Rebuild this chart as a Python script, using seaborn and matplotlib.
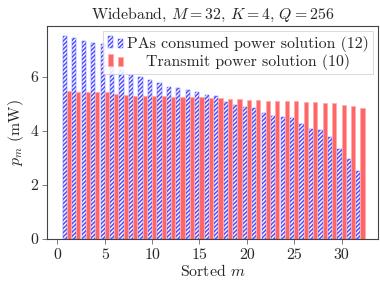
import pandas as pd
import seaborn as sns
import matplotlib.pyplot as plt
from matplotlib.patches import Rectangle
from matplotlib.legend_handler import HandlerBase

# data
m_idx = list(range(1, 33))
pa_power = [7.52, 7.44, 7.33, 7.26, 7.22, 6.45, 6.27, 6.07, 5.99, 5.89, 5.79, 5.64,
            5.61, 5.51, 5.43, 5.33, 5.30, 5.09, 4.96, 4.88, 4.84, 4.65, 4.56, 4.51,
            4.47, 4.26, 4.07, 4.04, 3.79, 3.33, 2.95, 2.53]
tx_power = [5.47, 5.46, 5.46, 5.46, 5.46, 5.37, 5.33, 5.31, 5.31, 5.30, 5.28, 5.27,
            5.27, 5.25, 5.25, 5.22, 5.21, 5.19, 5.18, 5.15, 5.15, 5.12, 5.12, 5.12,
            5.10, 5.06, 5.06, 5.04, 5.02, 4.96, 4.93, 4.84]
series_names = ["PAs consumed power solution (12)", "Transmit power solution (10)"]
x_ticks = [0, 5, 10, 15, 20, 25, 30]
y_ticks = [0, 2, 4, 6]

FS = 11.4


class TwoBarHandler(HandlerBase):
    # pgfplots-style ybar legend image: two small bars
    def create_artists(self, legend, orig, xdescent, ydescent, width, height,
                       fontsize, trans):
        bw = width * 0.32
        r1 = Rectangle((-xdescent, -ydescent), bw, height)
        r2 = Rectangle((-xdescent + width * 0.64, -ydescent), bw, height * 0.75)
        for r in (r1, r2):
            r.update_from(orig)
            r.set_transform(trans)
        return [r1, r2]


def main():
    df = pd.DataFrame({
        "m": m_idx * 2,
        "p": pa_power + tx_power,
        "series": [series_names[0]] * len(m_idx) + [series_names[1]] * len(m_idx),
    })

    sns.set_style("ticks")
    plt.rcParams["font.family"] = ["cmr10", "DejaVu Serif"]
    plt.rcParams["mathtext.fontset"] = "cm"
    plt.rcParams["axes.formatter.use_mathtext"] = True
    plt.rcParams["hatch.linewidth"] = 1.1

    fig = plt.figure(figsize=(3.8, 2.87), dpi=100)
    ax = fig.add_axes([0.1245, 0.1672, 0.8715, 0.7433])

    sns.barplot(data=df, x="m", y="p", hue="series", hue_order=series_names,
                palette={series_names[0]: "white", series_names[1]: "#ff6666"},
                native_scale=True, width=0.88, saturation=1, errorbar=None,
                legend=False, ax=ax)

    for bar in ax.containers[0]:
        bar.set_facecolor("white")
        bar.set_edgecolor("#5050ff")
        bar.set_hatch("////////")
        bar.set_linewidth(0.3)
    for bar in ax.containers[1]:
        bar.set_facecolor("#ff6666")
        bar.set_edgecolor("#ffaaaa")
        bar.set_linewidth(0.5)

    ax.set_xlim(-1.06, 33.9)
    ax.set_ylim(0, 7.9)
    ax.set_xticks(x_ticks)
    ax.set_yticks(y_ticks)
    ax.set_xticklabels([str(t) for t in x_ticks])
    ax.set_yticklabels([str(t) for t in y_ticks])
    ax.tick_params(axis="both", labelsize=FS, length=3.5, width=0.6,
                   color="#666666", pad=3)
    for s in ax.spines.values():
        s.set_visible(True)
        s.set_color("#444444")
        s.set_linewidth(0.8)

    ax.set_title(r"Wideband, $M=32$, $K=4$, $Q=256$", fontsize=FS, pad=5)
    ax.set_xlabel(r"Sorted $m$", fontsize=FS, labelpad=1)
    ax.set_ylabel(r"$p_m$ (mW)", fontsize=FS, labelpad=3)

    handles = [ax.containers[0][0], ax.containers[1][0]]
    leg = ax.legend(handles, series_names, loc="upper right", fontsize=FS,
                    handler_map={h: TwoBarHandler() for h in handles},
                    handlelength=1.0, handleheight=0.72, handletextpad=0.2,
                    borderpad=0.3, labelspacing=0.12, borderaxespad=0.33,
                    fancybox=False, framealpha=0.85, edgecolor="#cccccc",
                    frameon=True)
    leg.get_frame().set_linewidth(0.6)

    # centre the second legend text under the first, like pgfplots does
    fig.canvas.draw()
    t1, t2 = leg.get_texts()
    w1 = t1.get_window_extent().width
    w2 = t2.get_window_extent().width
    item2 = leg._legend_handle_box.get_children()[0].get_children()[1]
    item2.sep += (w1 - w2) / 2 * 72 / fig.dpi

    fig.savefig("out.png", dpi=100)


if __name__ == "__main__":
    main()
